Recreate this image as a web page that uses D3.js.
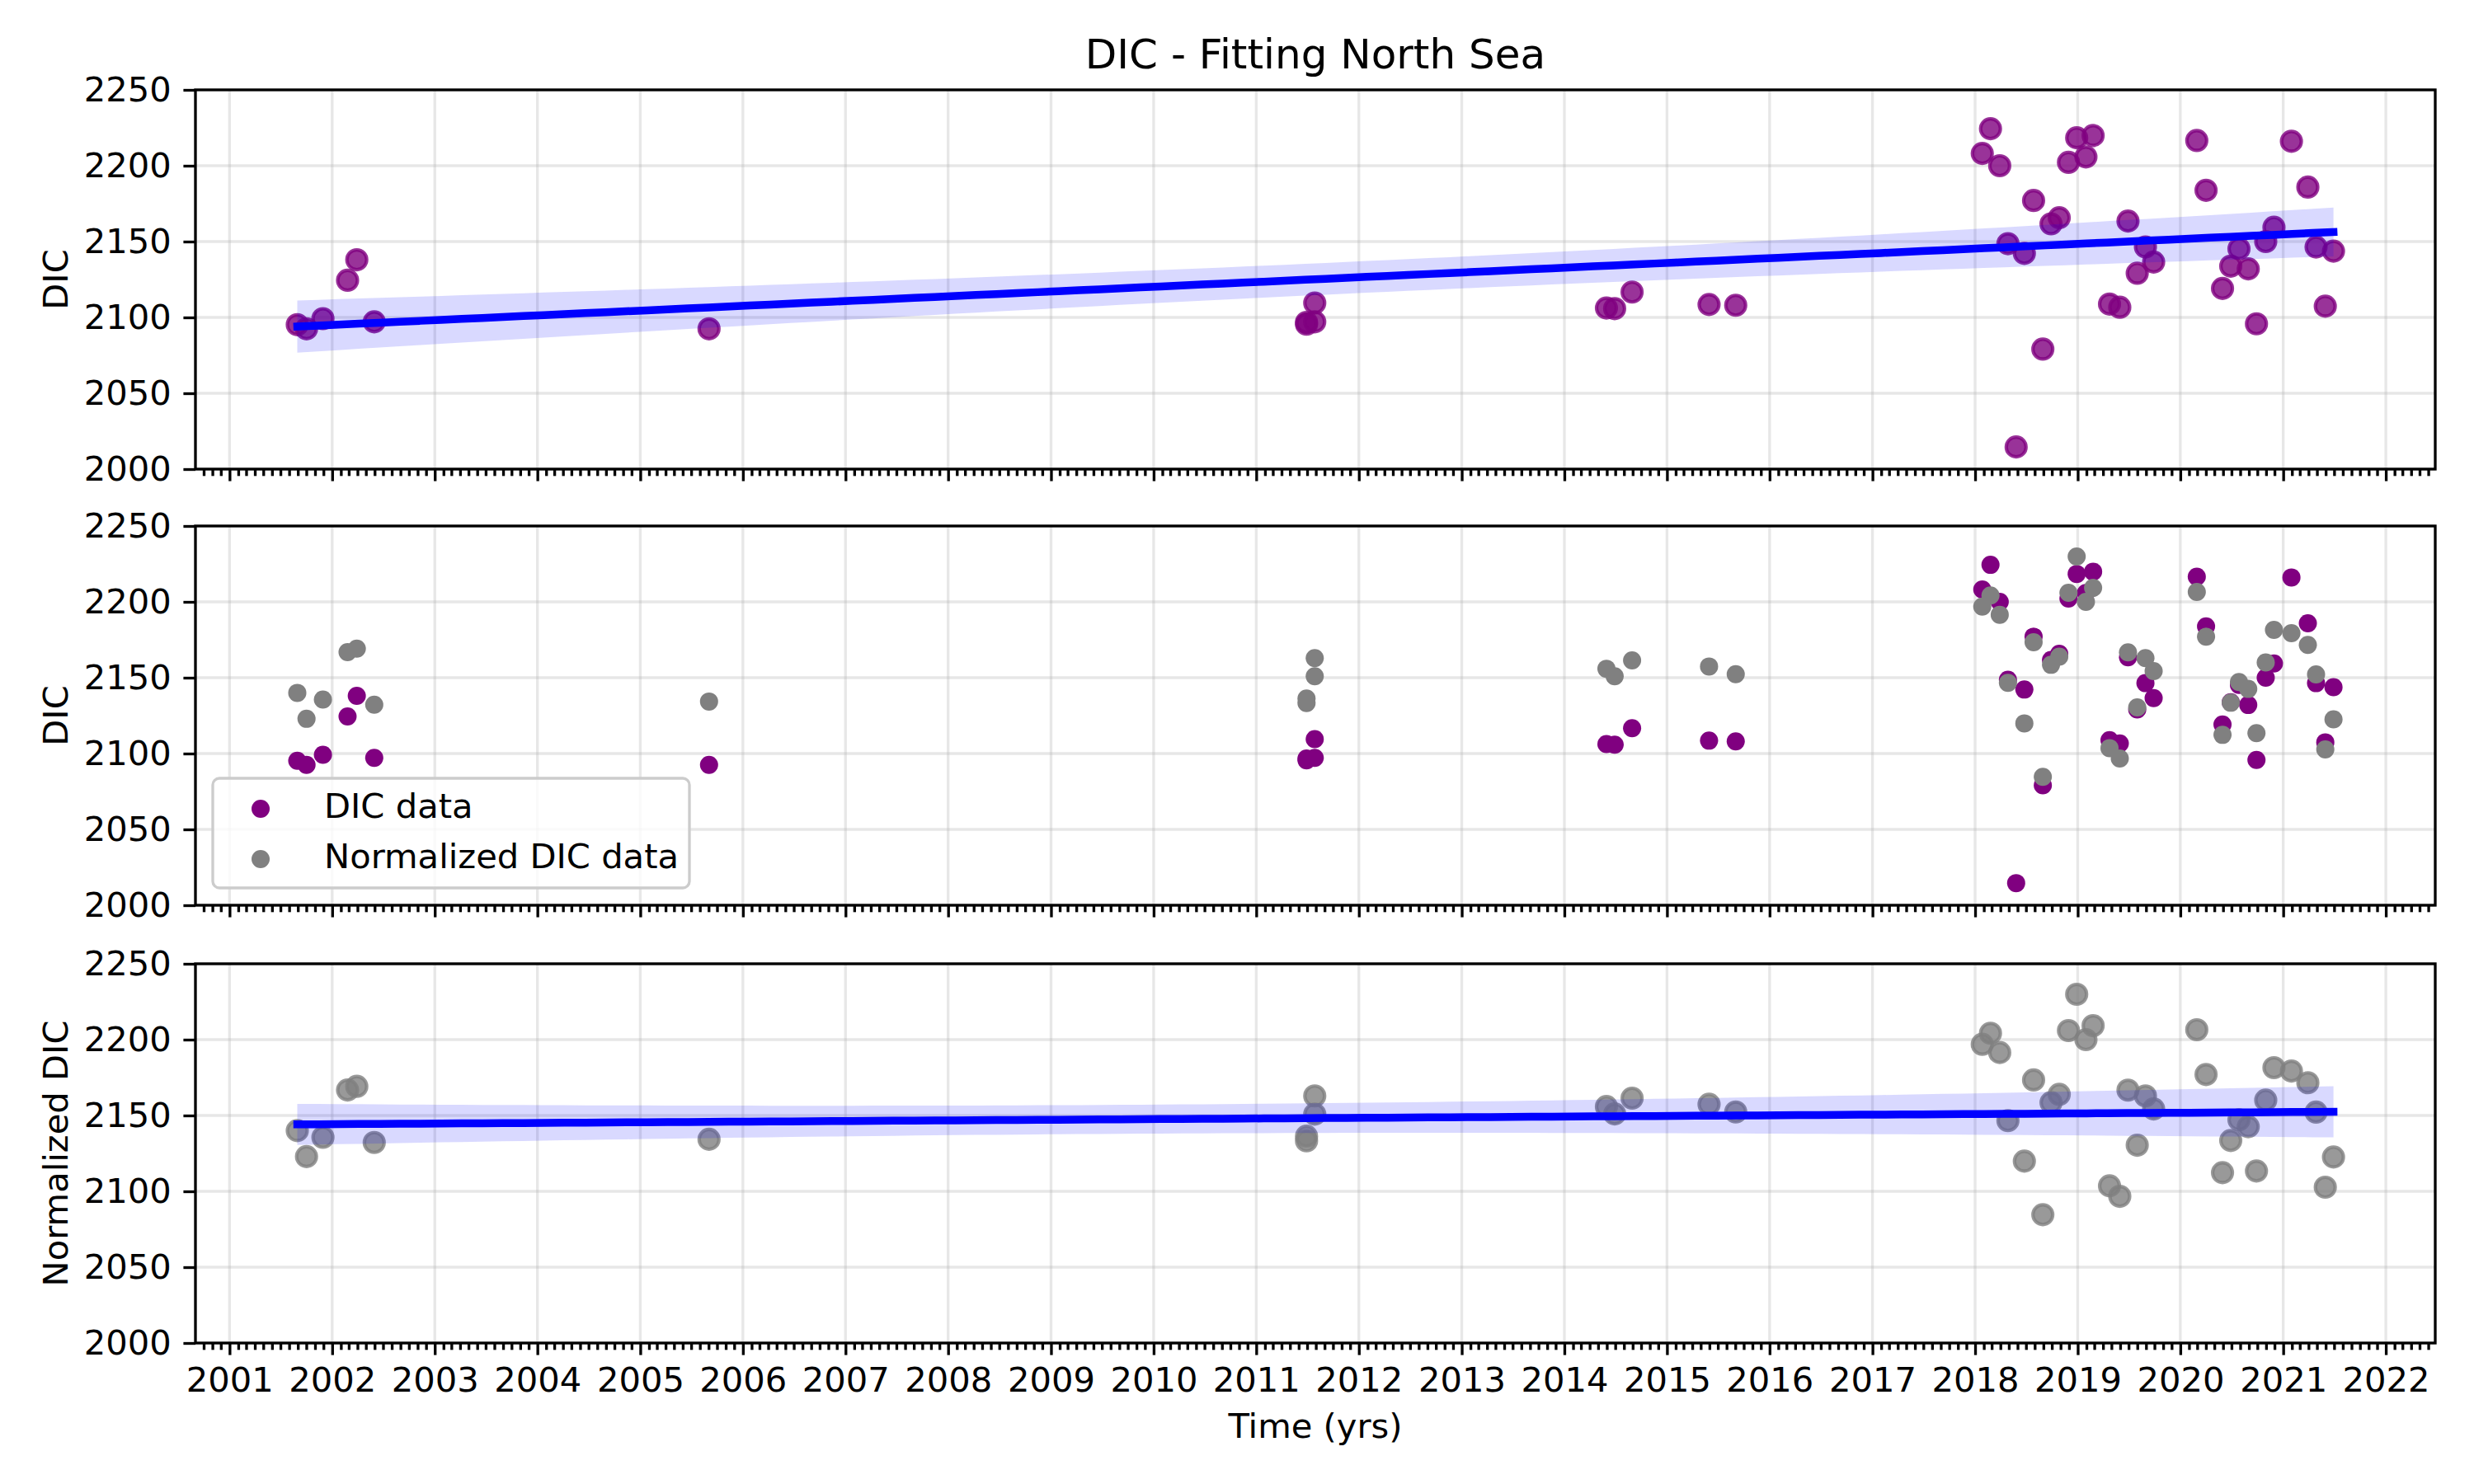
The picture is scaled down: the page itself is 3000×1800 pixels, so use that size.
<!DOCTYPE html>
<html>
<head>
<meta charset="utf-8">
<script src="https://cdn.jsdelivr.net/npm/d3@7"></script>
<style>
  body { margin: 0; background: #fff; }
  svg { display: block; }
  text { font-family: "DejaVu Sans", sans-serif; fill: #000; }
</style>
</head>
<body>
<svg id="chart" width="3000" height="1800"></svg>
<script>
// sampling dates (decimal years)
const years = [
  2001.66, 2001.75, 2001.91, 2002.15, 2002.24, 2002.41, 2005.67,
  2011.49, 2011.49, 2011.57, 2011.57, 2014.41, 2014.49, 2014.66, 2015.41, 2015.67,
  2018.07, 2018.15, 2018.24, 2018.32, 2018.40, 2018.48, 2018.57, 2018.66, 2018.74,
  2018.82, 2018.91, 2018.99, 2019.08, 2019.15, 2019.31, 2019.41, 2019.49, 2019.58,
  2019.66, 2019.74, 2020.16, 2020.25, 2020.41, 2020.49, 2020.57, 2020.66, 2020.74,
  2020.83, 2020.91, 2021.08, 2021.24, 2021.32, 2021.41, 2021.49
];

// measured DIC
const dic = [
  2095.2, 2092.5, 2099.2, 2124.5, 2138.0, 2097.1, 2092.5,
  2096.7, 2095.5, 2097.1, 2109.5, 2106.2, 2105.8, 2116.7, 2108.5, 2108.0,
  2208.1, 2224.4, 2200.0, 2148.6, 2014.6, 2142.2, 2177.1, 2079.1, 2161.7,
  2165.7, 2202.2, 2218.4, 2205.8, 2219.9, 2108.8, 2106.7, 2163.5, 2129.1,
  2146.4, 2136.5, 2216.6, 2183.8, 2119.1, 2133.8, 2145.3, 2132.0, 2095.8,
  2150.0, 2159.4, 2216.1, 2185.9, 2146.4, 2107.4, 2143.7
];

// normalized DIC (the 2018.40 value sits below the axis, estimated from the fit)
const normDic = [
  2140.0, 2122.9, 2135.6, 2166.8, 2169.2, 2132.2, 2134.3,
  2136.3, 2133.3, 2150.9, 2162.9, 2155.9, 2151.0, 2161.4, 2157.4, 2152.3,
  2196.9, 2204.2, 2191.5, 2146.6, 1945.0, 2119.9, 2173.4, 2084.6, 2158.5,
  2163.9, 2206.0, 2229.9, 2200.0, 2209.2, 2103.6, 2096.7, 2166.7, 2130.4,
  2162.9, 2154.3, 2206.5, 2177.0, 2112.3, 2133.5, 2147.1, 2142.6, 2113.4,
  2160.1, 2181.5, 2179.3, 2171.6, 2152.2, 2102.7, 2122.6
];

const yTicks = [2000, 2050, 2100, 2150, 2200, 2250];
const yLabels = ["DIC", "DIC", "Normalized DIC"];
const legendLabels = ["DIC data", "Normalized DIC data"];

const svg = d3.select('#chart');
const pt = 300 / 72;
const left = 237, right = 2953;
const panelTops = [109, 638, 1169];
const panelH = 460;
const fs = 10 * pt;

function toDate(y) {
  const yr = Math.floor(y);
  const a = new Date(yr, 0, 1), b = new Date(yr + 1, 0, 1);
  return new Date(+a + (y - yr) * (b - a));
}

const xMin = d3.min(years), xMax = d3.max(years);
const pad = (xMax - xMin) * 0.05;
const x = d3.scaleTime()
  .domain([toDate(xMin - pad), toDate(xMax + pad)])
  .range([left, right]);

// OLS fit, 95% band from a robust (HC3) covariance, on 100 points
function fit(xs, ys) {
  const pts = xs.map((d, i) => [d, ys[i]]).filter(p => p[1] != null);
  const n = pts.length;
  const xb = d3.mean(pts, p => p[0]), yb = d3.mean(pts, p => p[1]);
  const sxx = d3.sum(pts, p => (p[0] - xb) ** 2);
  const sxy = d3.sum(pts, p => (p[0] - xb) * (p[1] - yb));
  const b = sxy / sxx;
  let sw = 0, swd = 0, swd2 = 0;
  pts.forEach(p => {
    const d = p[0] - xb;
    const e = p[1] - (yb + b * d);
    const h = 1 / n + d * d / sxx;
    const w = e * e / ((1 - h) ** 2);
    sw += w; swd += w * d; swd2 += w * d * d;
  });
  const vaa = sw / (n * n), vab = swd / (n * sxx), vbb = swd2 / (sxx * sxx);
  const lo = d3.min(pts, p => p[0]), hi = d3.max(pts, p => p[0]);
  return d3.range(100).map(i => {
    const xv = lo + (hi - lo) * i / 99;
    const d = xv - xb;
    const yh = yb + b * d;
    const se = Math.sqrt(vaa + 2 * d * vab + d * d * vbb);
    return { x: xv, y: yh, lo: yh - 1.96 * se, hi: yh + 1.96 * se };
  });
}

const defs = svg.append('defs');

panelTops.forEach((top, k) => {
  const bottom = top + panelH;
  const y = d3.scaleLinear().domain([2000, 2250]).range([bottom, top]);
  const g = svg.append('g');

  defs.append('clipPath').attr('id', 'clip' + k)
    .append('rect')
    .attr('x', left).attr('y', top)
    .attr('width', right - left).attr('height', panelH);

  // grid
  const gy = g.append('g');
  gy.selectAll('line.v')
    .data(x.ticks(d3.timeYear.every(1)))
    .join('line')
    .attr('x1', d => x(d)).attr('x2', d => x(d))
    .attr('y1', top).attr('y2', bottom)
    .attr('stroke', '#b0b0b0').attr('stroke-opacity', 0.3)
    .attr('stroke-width', 0.8 * pt);
  gy.selectAll('line.h')
    .data(yTicks)
    .join('line')
    .attr('x1', left).attr('x2', right)
    .attr('y1', d => y(d)).attr('y2', d => y(d))
    .attr('stroke', '#b0b0b0').attr('stroke-opacity', 0.3)
    .attr('stroke-width', 0.8 * pt);

  const idx = d3.range(years.length);
  const marks = g.append('g').attr('clip-path', `url(#clip${k})`);

  if (k === 1) {
    marks.append('g').selectAll('circle')
      .data(idx)
      .join('circle')
      .attr('cx', i => x(toDate(years[i])))
      .attr('cy', i => y(dic[i]))
      .attr('r', 11)
      .attr('fill', 'purple');
    marks.append('g').selectAll('circle')
      .data(idx.filter(i => normDic[i] != null))
      .join('circle')
      .attr('cx', i => x(toDate(years[i])))
      .attr('cy', i => y(normDic[i]))
      .attr('r', 11)
      .attr('fill', 'gray');
  } else {
    const vals = k === 0 ? dic : normDic;
    const col = k === 0 ? 'purple' : 'gray';
    marks.append('g').selectAll('circle')
      .data(idx.filter(i => vals[i] != null))
      .join('circle')
      .attr('cx', i => x(toDate(years[i])))
      .attr('cy', i => y(vals[i]))
      .attr('r', 12)
      .attr('fill', col).attr('fill-opacity', 0.8)
      .attr('stroke', col).attr('stroke-opacity', 0.8)
      .attr('stroke-width', pt);

    const f = fit(years, vals);
    marks.append('path')
      .datum(f)
      .attr('d', d3.area()
        .x(d => x(toDate(d.x)))
        .y0(d => y(d.lo))
        .y1(d => y(d.hi)))
      .attr('fill', 'blue')
      .attr('fill-opacity', 0.15);
    marks.append('path')
      .datum(f)
      .attr('d', d3.line()
        .x(d => x(toDate(d.x)))
        .y(d => y(d.y)))
      .attr('fill', 'none')
      .attr('stroke', 'blue')
      .attr('stroke-width', 9.5)
      .attr('stroke-linecap', 'square');
  }

  // axes
  const major = d3.axisBottom(x)
    .ticks(d3.timeYear.every(1))
    .tickFormat(k === 2 ? d3.timeFormat('%Y') : '')
    .tickSize(3.5 * pt).tickSizeOuter(0).tickPadding(3.5 * pt);
  const minor = d3.axisBottom(x)
    .tickValues(x.ticks(d3.timeMonth.every(1)).filter(d => d.getMonth() !== 0))
    .tickFormat('')
    .tickSize(2 * pt).tickSizeOuter(0);
  [minor, major].forEach(ax => {
    const a = g.append('g')
      .attr('transform', `translate(0,${bottom})`)
      .call(ax);
    a.select('.domain').remove();
    a.selectAll('line').attr('stroke', '#000').attr('stroke-width', 0.8 * pt);
    a.selectAll('text').attr('font-size', fs).attr('font-family', 'DejaVu Sans');
  });

  const ya = g.append('g')
    .attr('transform', `translate(${left},0)`)
    .call(d3.axisLeft(y).tickValues(yTicks).tickFormat(d3.format('d'))
      .tickSize(3.5 * pt).tickSizeOuter(0).tickPadding(3.5 * pt));
  ya.select('.domain').remove();
  ya.selectAll('line').attr('stroke', '#000').attr('stroke-width', 0.8 * pt);
  ya.selectAll('text').attr('font-size', fs).attr('font-family', 'DejaVu Sans');

  // frame
  g.append('rect')
    .attr('x', left).attr('y', top)
    .attr('width', right - left).attr('height', panelH)
    .attr('fill', 'none')
    .attr('stroke', '#000')
    .attr('stroke-width', 0.8 * pt);

  g.append('text')
    .attr('transform', `translate(82,${top + panelH / 2}) rotate(-90)`)
    .attr('text-anchor', 'middle')
    .attr('font-size', fs)
    .text(yLabels[k]);

  if (k === 1) {
    const lg = g.append('g');
    lg.append('rect')
      .attr('x', 258).attr('y', 944)
      .attr('width', 578).attr('height', 133)
      .attr('rx', 8)
      .attr('fill', '#fff').attr('fill-opacity', 0.8)
      .attr('stroke', '#cccccc').attr('stroke-width', 0.8 * pt);
    legendLabels.forEach((lab, j) => {
      lg.append('circle')
        .attr('cx', 316).attr('cy', 981 + j * 61)
        .attr('r', 11)
        .attr('fill', j === 0 ? 'purple' : 'gray');
      lg.append('text')
        .attr('x', 393).attr('y', 992 + j * 61)
        .attr('font-size', fs)
        .text(lab);
    });
  }
});

svg.append('text')
  .attr('x', (left + right) / 2).attr('y', 83)
  .attr('text-anchor', 'middle')
  .attr('font-size', 12 * pt)
  .text('DIC - Fitting North Sea');

svg.append('text')
  .attr('x', (left + right) / 2).attr('y', 1744)
  .attr('text-anchor', 'middle')
  .attr('font-size', fs)
  .text('Time (yrs)');
</script>
</body>
</html>
